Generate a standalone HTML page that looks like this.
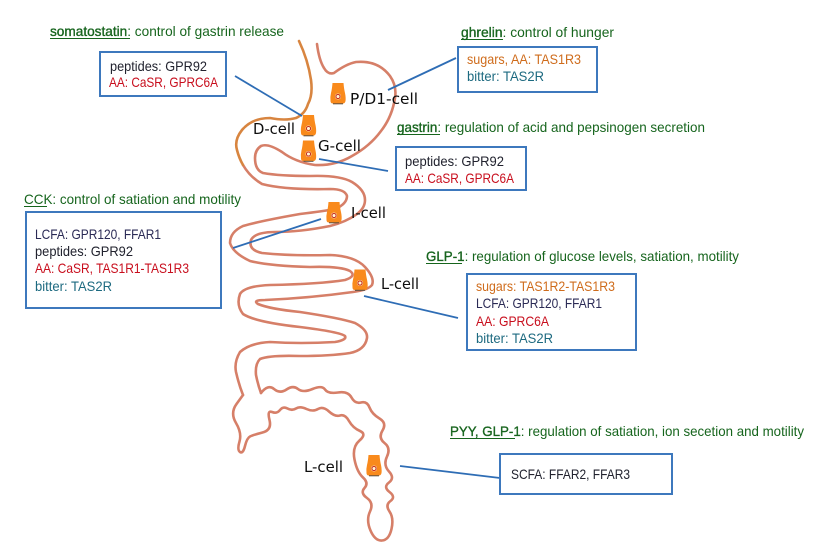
<!DOCTYPE html>
<html><head><meta charset="utf-8"><style>
html,body{margin:0;padding:0;background:#fff;width:828px;height:548px;overflow:hidden}
svg{display:block}
text{font-family:"Liberation Sans",sans-serif;font-size:14px}
.g{fill:#17651f}.k{fill:#20232f}.r{fill:#c8101f}.o{fill:#cf6c1c}.l{fill:#2b2a55}.b{fill:#1f6a80}
.e{stroke:#17651f;stroke-width:.35}
.c{font-family:"DejaVu Sans",sans-serif;font-size:15.500px;fill:#111}
.box{fill:#fff;stroke:#3d78bd;stroke-width:2}
.ln{stroke:#2f6db5;stroke-width:1.8;fill:none}
.u{stroke:#17651f;stroke-width:1}
.gut{fill:none;stroke:#d67f68;stroke-width:2.6;stroke-linejoin:round;stroke-linecap:round}
</style></head><body>
<svg width="828" height="548" viewBox="0 0 828 548" xmlns="http://www.w3.org/2000/svg">
<defs>
<filter id="s" x="-5%" y="-5%" width="110%" height="110%"><feGaussianBlur stdDeviation="0.3"/></filter>
<g id="cell">
<path d="M-5.500 -10 L5.500 -10 Q6 -4 7 0 Q8 5 7.500 8 Q7 10.500 5 10.500 L-5 10.500 Q-7.500 10.500 -7.500 8 Q-8 4 -7 0 Q-6 -4 -5.500 -10Z" fill="#f98a1c"/>
<path d="M-5 10.800 L5 10.800" stroke="#5a5040" stroke-width="1"/>
<circle cx="0" cy="3.500" r="3" fill="#fff3d8"/>
<circle cx="0" cy="3.500" r="2.100" fill="none" stroke="#c8321a" stroke-width="1.100"/>
</g>
</defs>
<g filter="url(#s)">
<path class="gut" d="M317 44 Q319 60 324 68 Q328 75 334 73 Q346 64 356 62 Q378 60 390 76 Q397 86 395 98 Q392 117 381 131 Q370 146 352 156 Q335 166 315 165 Q295 162 282 152 Q268 143 261 146 Q255 150 255 158 Q255 170 263 173 Q280 176 310 176 Q340 175 352 182 Q365 190 365 200 Q365 208 357 214 Q346 222 330 226 Q300 232 275 232 Q255 232 251 240 Q248 250 262 253 Q290 256 330 255 Q355 256 365 267 Q375 278 372 285 Q368 290 353 292 Q310 298 265 300 Q252 300 258 304 Q270 309 300 312 Q340 318 355 323 Q368 330 367 338 Q365 350 350 353 Q330 356 300 356 Q270 355 260 359 Q255 364 256 375 Q258 385 261 393"/>
<path class="gut" d="M243 165 Q250 177 262 184 Q285 190 330 189 Q345 189 347 196 Q347 204 335 209 Q325 211 300 214 Q260 221 243 226 Q230 232 230 243 Q233 253 250 261 Q270 266 310 267 Q340 266 350 271 Q357 276 345 280 Q320 284 270 285 Q245 286 240 294 Q236 305 243 314 Q255 322 300 327 Q340 332 345 336 Q347 340 335 342 Q300 344 270 342 Q250 343 240 352 Q234 362 236 372 Q239 385 243 395"/>
<path class="gut" d="M261 393 Q268 384 274 389 Q280 394 286.500 389.500 Q293 385 298 389 Q303 393 312.500 389 Q322 385 325 389.500 Q328 394 338 392.500 Q348 391 351.500 397.500 Q355 404 361 402.500 Q367 401 369.500 407.500 Q372 414 379.500 418.500 Q387 423 382.500 430.500 Q378 438 384.500 443 Q391 448 387 456.500 Q383 465 389 471.500 Q395 478 389 482.500 Q383 487 389.500 492 Q396 497 390.500 501 Q385 505 389.500 511.500 Q394 518 391.500 529 Q389 540 382 540.500 Q375 541 370.500 530.500 Q366 520 370 511.500 Q374 503 367 498 Q360 493 364.500 488 Q369 483 363 477.500 Q357 472 354.500 459.500 Q352 447 359.500 440.500 Q367 434 360 431 Q353 428 349 421 Q345 414 340 415.500 Q335 417 329 411.500 Q323 406 318 409 Q313 412 306.500 409 Q300 406 296 408.500 Q292 411 287.500 408.500 Q283 406 280 410 Q277 414 272 412 Q267 410 269.500 420 Q272 430 262.500 432.500 Q253 435 250 436.500 Q247 438 245 446 Q243 454 240 452 Q237 450 239.500 441.500 Q242 433 236 423 Q230 413 236.500 404 L243 395"/>
<path d="M299 41 Q308 60 311 80 Q313 95 308 104 Q305 114 296 118 Q285 121 270 118 Q252 118 242 130 Q234 140 237 150 Q239 158 243 165" fill="none" stroke="#d8853f" stroke-width="2.600" stroke-linecap="round"/>

<line class="ln" x1="235" y1="76" x2="302" y2="116"/>
<line class="ln" x1="388" y1="90" x2="456" y2="58"/>
<line class="ln" x1="319" y1="159" x2="388" y2="171"/>
<line class="ln" x1="233" y1="248" x2="321" y2="219"/>
<line class="ln" x1="364" y1="296" x2="458" y2="318"/>
<line class="ln" x1="400" y1="466" x2="500" y2="478"/>

<use href="#cell" x="338" y="93"/>
<use href="#cell" x="308.500" y="125"/>
<use href="#cell" x="308.500" y="150.500"/>
<use href="#cell" x="334" y="212"/>
<use href="#cell" x="360" y="279.500"/>
<use href="#cell" x="374" y="465"/>

<rect class="box" x="100" y="52" width="126" height="44"/>
<rect class="box" x="458" y="47" width="139" height="45"/>
<rect class="box" x="396" y="147" width="130" height="43"/>
<rect class="box" x="26" y="212" width="195" height="96"/>
<rect class="box" x="467" y="274" width="169" height="76"/>
<rect class="box" x="500" y="454" width="172" height="40"/>

<text class="g" x="50" y="36" textLength="234" lengthAdjust="spacingAndGlyphs"><tspan class="e">somatostatin</tspan>: control of gastrin release</text>
<line class="u" x1="50" y1="38.500" x2="130" y2="38.500"/>
<text class="k" x="110" y="71" textLength="97" lengthAdjust="spacingAndGlyphs">peptides: GPR92</text>
<text class="r" x="109" y="87" textLength="109" lengthAdjust="spacingAndGlyphs">AA: CaSR, GPRC6A</text>

<text class="g" x="461" y="37" textLength="153" lengthAdjust="spacingAndGlyphs"><tspan class="e">ghrelin</tspan>: control of hunger</text>
<line class="u" x1="461" y1="39.500" x2="503" y2="39.500"/>
<text class="o" x="467" y="64" textLength="114" lengthAdjust="spacingAndGlyphs">sugars, AA: TAS1R3</text>
<text class="b" x="467" y="81" textLength="77" lengthAdjust="spacingAndGlyphs">bitter: TAS2R</text>

<text class="g" x="397" y="132" textLength="308" lengthAdjust="spacingAndGlyphs"><tspan class="e">gastrin</tspan>: regulation of acid and pepsinogen secretion</text>
<line class="u" x1="397" y1="134.500" x2="440" y2="134.500"/>
<text class="k" x="405" y="166" textLength="99" lengthAdjust="spacingAndGlyphs">peptides: GPR92</text>
<text class="r" x="405" y="183" textLength="109" lengthAdjust="spacingAndGlyphs">AA: CaSR, GPRC6A</text>

<text class="g" x="24" y="204" textLength="217" lengthAdjust="spacingAndGlyphs">CCK: control of satiation and motility</text>
<line class="u" x1="24" y1="206.500" x2="47" y2="206.500"/>
<text class="l" x="35" y="239" textLength="126" lengthAdjust="spacingAndGlyphs">LCFA: GPR120, FFAR1</text>
<text class="k" x="35" y="256" textLength="98" lengthAdjust="spacingAndGlyphs">peptides: GPR92</text>
<text class="r" x="35" y="273" textLength="154" lengthAdjust="spacingAndGlyphs">AA: CaSR, TAS1R1-TAS1R3</text>
<text class="b" x="35" y="291" textLength="77" lengthAdjust="spacingAndGlyphs">bitter: TAS2R</text>

<text class="g" x="426" y="261" textLength="313" lengthAdjust="spacingAndGlyphs"><tspan class="e">GLP-1</tspan>: regulation of glucose levels, satiation, motility</text>
<line class="u" x1="426" y1="263.500" x2="462" y2="263.500"/>
<text class="o" x="476" y="291" textLength="139" lengthAdjust="spacingAndGlyphs">sugars: TAS1R2-TAS1R3</text>
<text class="l" x="476" y="308" textLength="126" lengthAdjust="spacingAndGlyphs">LCFA: GPR120, FFAR1</text>
<text class="r" x="476" y="326" textLength="73" lengthAdjust="spacingAndGlyphs">AA: GPRC6A</text>
<text class="b" x="476" y="343" textLength="77" lengthAdjust="spacingAndGlyphs">bitter: TAS2R</text>

<text class="g" x="450" y="436" textLength="354" lengthAdjust="spacingAndGlyphs"><tspan class="e">PYY, GLP-1</tspan>: regulation of satiation, ion secetion and motility</text>
<line class="u" x1="450" y1="438.500" x2="515" y2="438.500"/>
<text class="k" x="511" y="479" textLength="119" lengthAdjust="spacingAndGlyphs">SCFA: FFAR2, FFAR3</text>

<text class="c" x="350" y="104" textLength="68" lengthAdjust="spacingAndGlyphs">P/D1-cell</text>
<text class="c" x="253" y="134" textLength="42" lengthAdjust="spacingAndGlyphs">D-cell</text>
<text class="c" x="318" y="151" textLength="43" lengthAdjust="spacingAndGlyphs">G-cell</text>
<text class="c" x="351" y="218" textLength="35" lengthAdjust="spacingAndGlyphs">I-cell</text>
<text class="c" x="381" y="289" textLength="38" lengthAdjust="spacingAndGlyphs">L-cell</text>
<text class="c" x="304" y="472" textLength="39" lengthAdjust="spacingAndGlyphs">L-cell</text>
</g>
</svg>
</body></html>
